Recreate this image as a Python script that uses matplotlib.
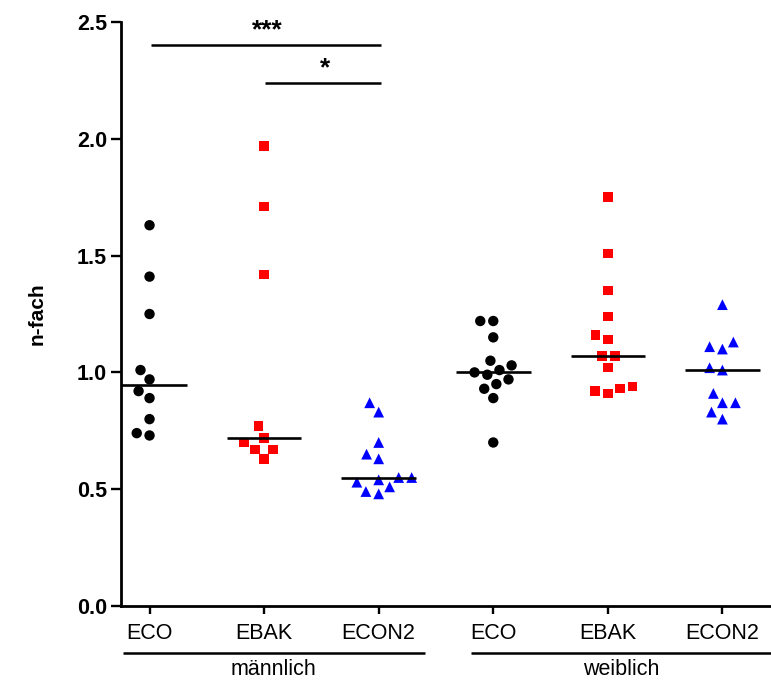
import numpy as np
import matplotlib
matplotlib.use("Agg")
import matplotlib.pyplot as plt
from matplotlib.transforms import blended_transform_factory

plt.rcParams['font.family'] = ['Liberation Sans', 'DejaVu Sans']

# ---- data ----
categories = ["ECO", "EBAK", "ECON2", "ECO", "EBAK", "ECON2"]
groups = ["männlich", "weiblich"]
male_eco = [1.63, 1.41, 1.25, 1.01, 0.97, 0.92, 0.89, 0.80, 0.74, 0.73]
male_ebak = [1.97, 1.71, 1.42, 0.77, 0.72, 0.70, 0.67, 0.67, 0.63]
male_econ2 = [0.87, 0.83, 0.70, 0.65, 0.63, 0.55, 0.55, 0.54, 0.53, 0.51, 0.49, 0.48]
female_eco = [1.22, 1.22, 1.15, 1.05, 1.03, 1.01, 1.00, 0.99, 0.97, 0.95, 0.93, 0.89, 0.70]
female_ebak = [1.75, 1.51, 1.35, 1.24, 1.16, 1.14, 1.07, 1.07, 1.02, 0.94, 0.93, 0.92, 0.91]
female_econ2 = [1.29, 1.13, 1.11, 1.10, 1.02, 1.01, 0.91, 0.87, 0.87, 0.83, 0.80]
series = [male_eco, male_ebak, male_econ2, female_eco, female_ebak, female_econ2]
sig_pairs = [(0, 2, 2.40, "***"), (1, 2, 2.24, "*")]
yticks = [0.0, 0.5, 1.0, 1.5, 2.0, 2.5]

colors = ["black", "#FF0000", "#0000FF"] * 2
markers = ["o", "s", "^"] * 2
msizes = [56, 46, 60] * 2

fig = plt.figure(figsize=(7.71, 6.82), dpi=100)
ax = fig.add_axes([121 / 771, 76 / 682, 650 / 771, 584 / 682])
ax.set_xlim(-0.249, 5.424)
ax.set_ylim(0, 2.5)

# beeswarm layout in display pixels
def swarm(values, xc, d=13.0):
    pts = []
    to_disp = ax.transData
    order = np.argsort(values)
    out = [None] * len(values)
    for i in order:
        px, py = to_disp.transform((xc, values[i]))
        cands = [0.0]
        for (qx, qy) in pts:
            dy = abs(py - qy)
            if dy < d:
                dx = np.sqrt(d * d - dy * dy)
                cands += [qx - px - dx, qx - px + dx]
        cands = sorted(cands, key=lambda c: (abs(c), c))
        for c in cands:
            ok = True
            for (qx, qy) in pts:
                if (px + c - qx) ** 2 + (py - qy) ** 2 < d * d - 1e-6:
                    ok = False
                    break
            if ok:
                break
        pts.append((px + c, py))
        out[i] = ax.transData.inverted().transform((px + c, py))[0]
    return np.array(out)

for i, vals in enumerate(series):
    xs = swarm(vals, i)
    ax.scatter(xs, vals, s=msizes[i], marker=markers[i], color=colors[i],
               edgecolors="none", zorder=3, clip_on=False)
    med = np.median(vals)
    ax.plot([i - 0.325, i + 0.325], [med, med], color="black", lw=1.9,
            zorder=4, solid_capstyle="butt")

# significance bars
for a, b, y, label in sig_pairs:
    ax.plot([a + 0.01, b + 0.02], [y, y], color="black", lw=1.8,
            clip_on=False, solid_capstyle="butt")
    ax.text((a + b) / 2 + 0.03, y + 0.012, label, ha="center", va="bottom",
            fontsize=19, fontweight="bold", clip_on=False)

# axes styling
for side in ["top", "right"]:
    ax.spines[side].set_visible(False)
for side in ["left", "bottom"]:
    ax.spines[side].set_linewidth(2.0)
ax.set_yticks(yticks)
ax.set_yticklabels([f"{t:.1f}" for t in yticks], fontsize=15.5, fontweight="bold")
ax.set_xticks(range(len(categories)))
ax.set_xticklabels(categories, fontsize=15.5)
ax.tick_params(axis="y", length=7, width=1.7, pad=3)
ax.tick_params(axis="x", length=6, width=1.7, pad=6)
ax.set_ylabel("n-fach", fontsize=15, fontweight="bold", labelpad=22)

# group lines and labels
tr = blended_transform_factory(ax.transData, ax.transAxes)
group_spans = [(-0.234, 2.40), (2.808, 5.424)]
for (x0, x1), name in zip(group_spans, groups):
    ax.plot([x0, x1], [-0.0805, -0.0805], color="black", lw=1.8,
            transform=tr, clip_on=False, solid_capstyle="butt")
    ax.text((x0 + x1) / 2, -0.108, name, transform=tr, ha="center",
            va="center", fontsize=15.5)

fig.savefig("out.png", dpi=100)
